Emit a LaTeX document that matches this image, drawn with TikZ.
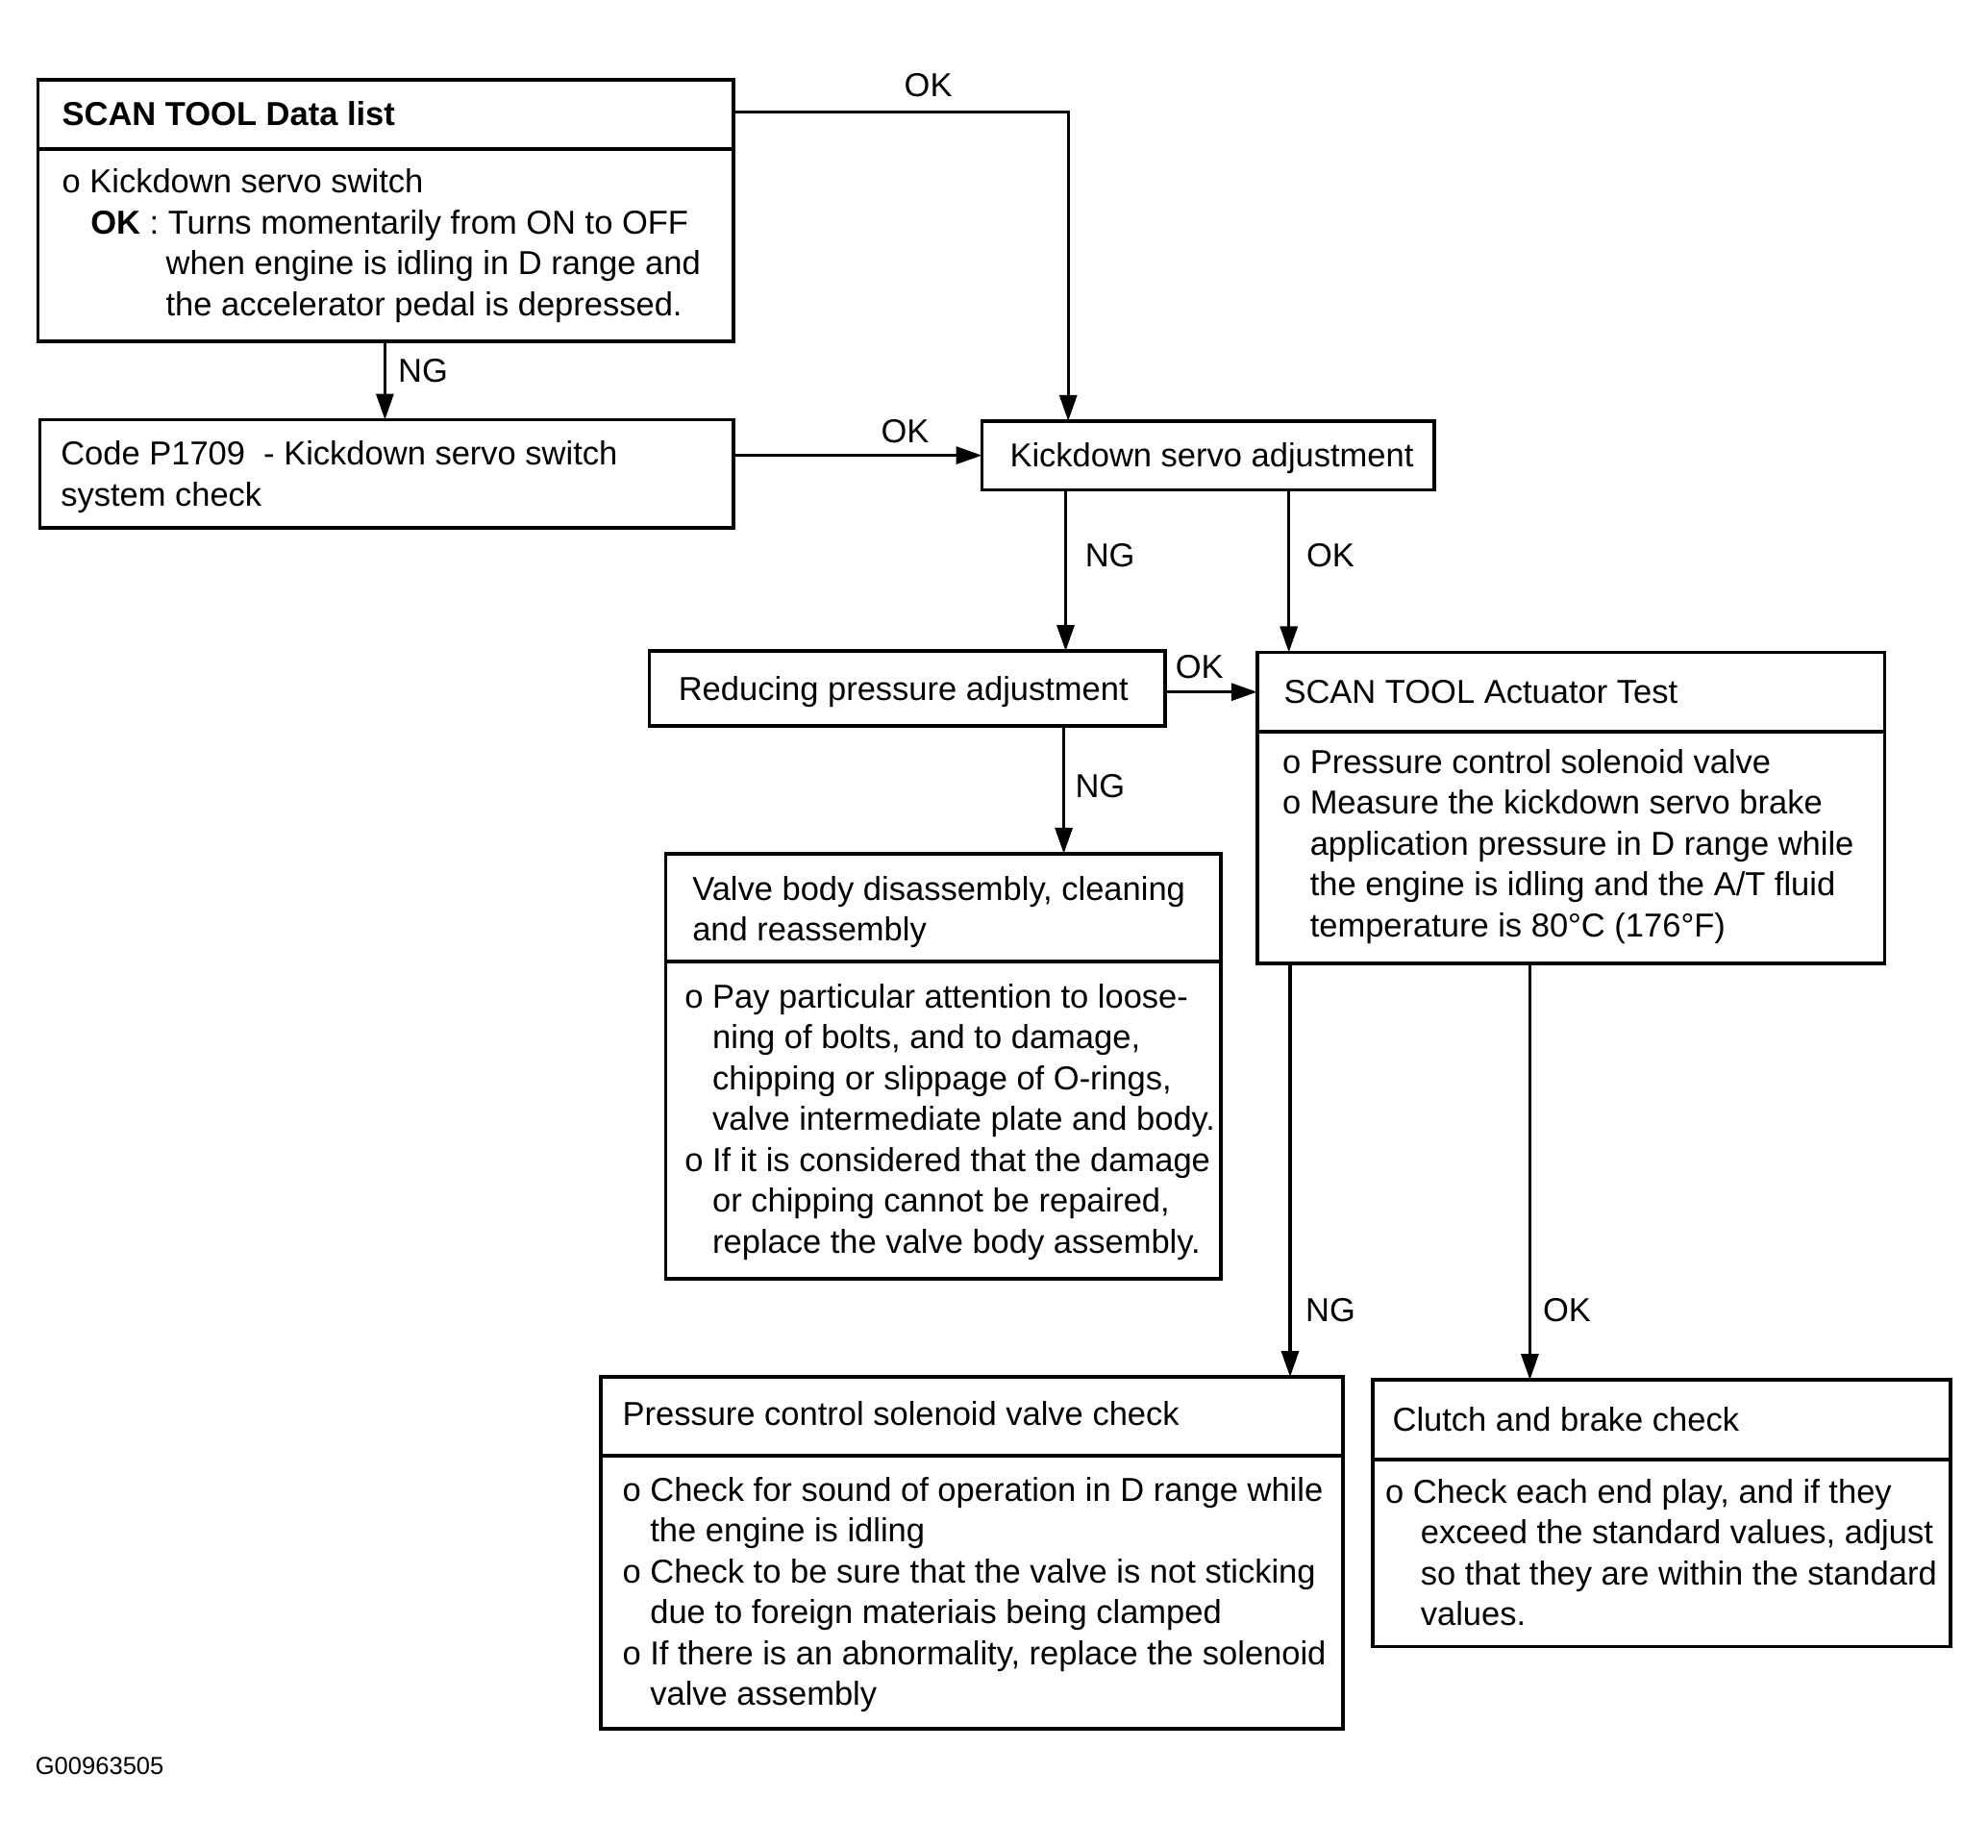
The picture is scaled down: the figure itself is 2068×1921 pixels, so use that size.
\documentclass[tikz,border=0pt]{standalone}
\usepackage{fontspec}
\setmainfont{Liberation Sans}
\usetikzlibrary{arrows.meta,fit}
\newcommand\ind{\hphantom{o\ }}
\newcommand\lns[1]{\begin{tabular}[t]{@{}l@{}}#1\end{tabular}}
\begin{document}
\begin{tikzpicture}[x=0.36pt,y=-0.36pt,
  box/.style={draw,line width=1.3pt,inner sep=0pt,outer sep=0pt},
  txt/.style={inner sep=0pt,outer sep=0pt,anchor=base west,font=\fontsize{12.42pt}{15.3pt}\selectfont},
  lbl/.style={inner sep=0pt,outer sep=0pt,font=\fontsize{12.42pt}{15.3pt}\selectfont},
  arr/.style={line width=1.1pt,-{Triangle[length=9.7pt,width=6.5pt]}}]
\fill[white] (0,0) rectangle (2068,1921);
\useasboundingbox (0,0) rectangle (2068,1921);

% boxes
\node[box,fit={(39.6,82.7) (763,154.9)}] (h1) {};
\node[box,fit={(39.6,154.9) (763,355.1)}] (b1) {};
\node[box,fit={(41.5,436.5) (763,549.2)}] (code) {};
\node[box,fit={(1021.5,437.8) (1492,509.4)}] (kick) {};
\node[box,fit={(675.3,677) (1212,755)}] (red) {};
\node[box,fit={(1307.7,678.4) (1960.5,761)}] (ah) {};
\node[box,fit={(1307.7,761) (1960.5,1001.7)}] (ab) {};
\node[box,fit={(692.5,887.8) (1270.2,999.8)}] (vh) {};
\node[box,fit={(692.5,999.8) (1270.2,1330)}] (vb) {};
\node[box,fit={(624.7,1432) (1396.8,1514)}] (ph) {};
\node[box,fit={(624.7,1514) (1396.8,1798)}] (pb) {};
\node[box,fit={(1427.8,1435) (2028.7,1517.7)}] (ch) {};
\node[box,fit={(1427.8,1517.7) (2028.7,1712.6)}] (cb) {};

% texts
\node[txt] (t1) at (64.6,130.4) {\textbf{SCAN TOOL Data list}};
\node[txt] (t2) at (64.6,200.8) {\lns{o Kickdown servo switch\\
\hspace*{10.7pt}\textbf{OK} : Turns momentarily from ON to OFF\\
\hspace*{38.9pt}when engine is idling in D range and\\
\hspace*{38.9pt}the accelerator pedal is depressed.}};
\node[txt] (t3) at (63.3,483.5) {\lns{Code P1709~ - Kickdown servo switch\\system check}};
\node[txt] (t4) at (1050.5,485.5) {Kickdown servo adjustment};
\node[txt] (t5) at (705.8,728.5) {Reducing pressure adjustment};
\node[txt] (t6) at (1335.5,731.5) {SCAN TOOL Actuator Test};
\node[txt] (t7) at (1334,804.4) {\lns{o Pressure control solenoid valve\\
o Measure the kickdown servo brake\\
\ind application pressure in D range while\\
\ind the engine is idling and the A/T fluid\\
\ind temperature is 80°C (176°F)}};
\node[txt] (t8) at (720.3,936) {\lns{Valve body disassembly, cleaning\\and reassembly}};
\node[txt] (t9) at (712.4,1048) {\lns{o Pay particular attention to loose-\\
\ind ning of bolts, and to damage,\\
\ind chipping or slippage of O-rings,\\
\ind valve intermediate plate and body.\\
o If it is considered that the damage\\
\ind or chipping cannot be repaired,\\
\ind replace the valve body assembly.}};
\node[txt] (t10) at (647.6,1482) {Pressure control solenoid valve check};
\node[txt] (t11) at (647.6,1561) {\lns{o Check for sound of operation in D range while\\
\ind the engine is idling\\
o Check to be sure that the valve is not sticking\\
\ind due to foreign materiais being clamped\\
o If there is an abnormality, replace the solenoid\\
\ind valve assembly}};
\node[txt] (t12) at (1448.6,1488) {Clutch and brake check};
\node[txt] (t13) at (1441,1563) {\lns{o Check each end play, and if they\\
\hspace*{13.25pt}exceed the standard values, adjust\\
\hspace*{13.25pt}so that they are within the standard\\
\hspace*{13.25pt}values.}};
\node[inner sep=0pt,anchor=west,font=\fontsize{9.2pt}{11pt}\selectfont] (fig) at (36.3,1836.4) {G00963505};

% connector columns
\coordinate (ty) at (0,116.3);
\coordinate (a1) at (400.4,0);
\coordinate (a2) at (1111.2,0);
\coordinate (a3) at (1108.5,0);
\coordinate (a4) at (1340.7,0);
\coordinate (a5) at (1106.6,0);
\coordinate (a6) at (1342,0);
\coordinate (a7) at (1591.4,0);

% connectors
\draw[arr] (h1.east |- ty) -| (kick.north -| a2);
\draw[arr] (b1.south -| a1) -- (code.north -| a1);
\draw[arr] (code.east |- kick.west) -- (kick.west);
\draw[arr] (kick.south -| a3) -- (red.north -| a3);
\draw[arr] (kick.south -| a4) -- (ah.north -| a4);
\draw[arr] (red.east |- ah.west) -- (ah.west);
\draw[arr] (red.south -| a5) -- (vh.north -| a5);
\draw[arr] (ab.south -| a6) -- (ph.north -| a6);
\draw[arr] (ab.south -| a7) -- (ch.north -| a7);

% labels
\node[lbl] (l1) at (965.6,88.8) {OK};
\node[lbl] (l2) at (440,385.7) {NG};
\node[lbl] (l3) at (941.5,448.8) {OK};
\node[lbl] (l4) at (1154.7,577.4) {NG};
\node[lbl] (l5) at (1384,577.4) {OK};
\node[lbl] (l6) at (1247.8,693.7) {OK};
\node[lbl] (l7) at (1144.4,817.4) {NG};
\node[lbl] (l8) at (1384,1362.7) {NG};
\node[lbl] (l9) at (1630,1362.7) {OK};
\end{tikzpicture}
\end{document}
